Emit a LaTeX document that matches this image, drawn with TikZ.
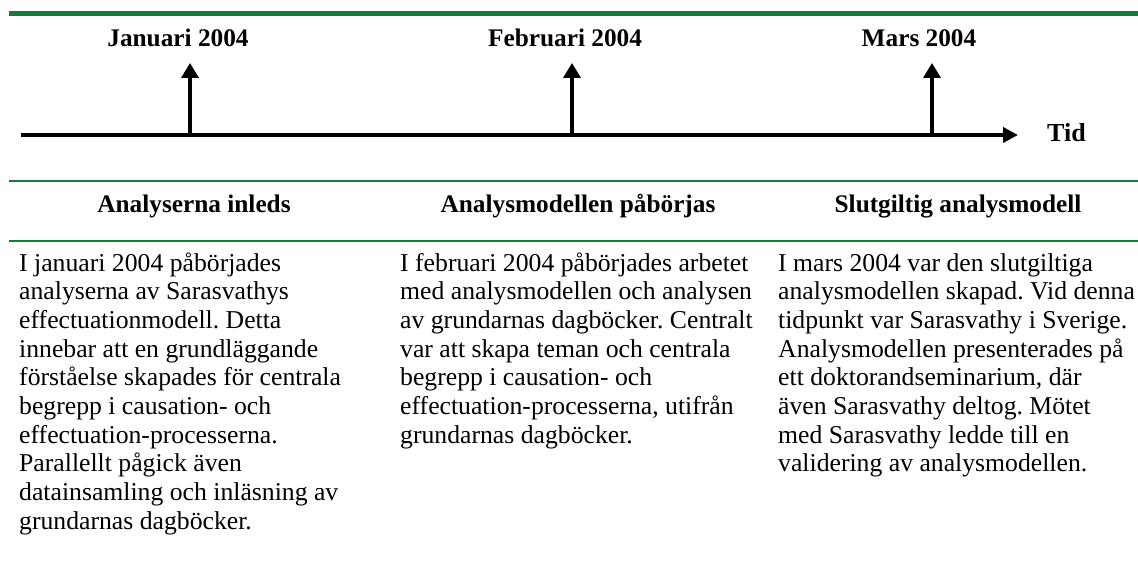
\documentclass[tikz,border=0pt]{standalone}
\usepackage{fontspec}
\setmainfont{Liberation Serif}
\usetikzlibrary{arrows.meta}
\definecolor{rulegreen}{RGB}{24,121,60}
\frenchspacing
\tikzset{
  greenrule/.style={draw=rulegreen, line width=#1},
  axisline/.style={draw=black, line width=4pt, -{Triangle[length=15pt,width=15pt]}},
  uparrow/.style={draw=black, line width=3.5pt, -{Triangle[length=15pt,width=17pt]}},
  datelabel/.style={anchor=base, inner sep=0pt, font=\fontsize{25.3}{28}\selectfont\bfseries},
  headlabel/.style={anchor=base, inner sep=0pt, font=\fontsize{25.3}{28}\selectfont\bfseries},
  bodytext/.style={anchor=base west, inner sep=0pt},
}
\newcommand{\bodybox}[1]{\parbox[t]{360pt}{\raggedright\frenchspacing\fontsize{25.7}{28.7}\selectfont #1}}
\begin{document}
\begin{tikzpicture}[x=1pt,y=-1pt]
\useasboundingbox (0,0) rectangle (1138,572);
% green rules
\coordinate (g1L) at (9,13.3); \coordinate (g1R) at (1138,13.3);
\coordinate (g2L) at (9,181); \coordinate (g2R) at (1138,181);
\coordinate (g3L) at (9,241); \coordinate (g3R) at (1138,241);
\draw[greenrule=4.7pt] (g1L) -- (g1R);
\draw[greenrule=2.2pt] (g2L) -- (g2R);
\draw[greenrule=2.2pt] (g3L) -- (g3R);
% time axis
\coordinate (axL) at (21,135); \coordinate (axR) at (1018,135);
\draw[axisline] (axL) -- (axR);
\node[anchor=base west, inner sep=0pt, font=\fontsize{26}{28}\selectfont\bfseries] (tid) at (1047,142) {Tid};
% month arrows
\coordinate (b1) at (190,137); \coordinate (t1) at (190,63);
\coordinate (b2) at (572,137); \coordinate (t2) at (572,63);
\coordinate (b3) at (932,137); \coordinate (t3) at (932,63);
\draw[uparrow] (b1) -- (t1);
\draw[uparrow] (b2) -- (t2);
\draw[uparrow] (b3) -- (t3);
% date labels
\node[datelabel] (d1) at (178,47) {Januari 2004};
\node[datelabel] (d2) at (565,47) {Februari 2004};
\node[datelabel] (d3) at (919,47) {Mars 2004};
% headings
\node[headlabel] (h1) at (194,213) {Analyserna inleds};
\node[headlabel] (h2) at (578,213) {Analysmodellen påbörjas};
\node[headlabel] (h3) at (958,213) {Slutgiltig analysmodell};
% body texts
\node[bodytext] (c1) at (19,271) {\bodybox{I januari 2004 påbörjades\\
analyserna av Sarasvathys\\
effectuationmodell. Detta\\
innebar att en grundläggande\\
förståelse skapades för centrala\\
begrepp i causation- och\\
effectuation-processerna.\\
Parallellt pågick även\\
datainsamling och inläsning av\\
grundarnas dagböcker.}};
\node[bodytext] (c2) at (400,271) {\bodybox{I februari 2004 påbörjades arbetet\\
med analysmodellen och analysen\\
av grundarnas dagböcker. Centralt\\
var att skapa teman och centrala\\
begrepp i causation- och\\
effectuation-processerna, utifrån\\
grundarnas dagböcker.}};
\node[bodytext] (c3) at (778,271) {\bodybox{I mars 2004 var den slutgiltiga\\
analysmodellen skapad. Vid denna\\
tidpunkt var Sarasvathy i Sverige.\\
Analysmodellen presenterades på\\
ett doktorandseminarium, där\\
även Sarasvathy deltog. Mötet\\
med Sarasvathy ledde till en\\
validering av analysmodellen.}};
\end{tikzpicture}
\end{document}
